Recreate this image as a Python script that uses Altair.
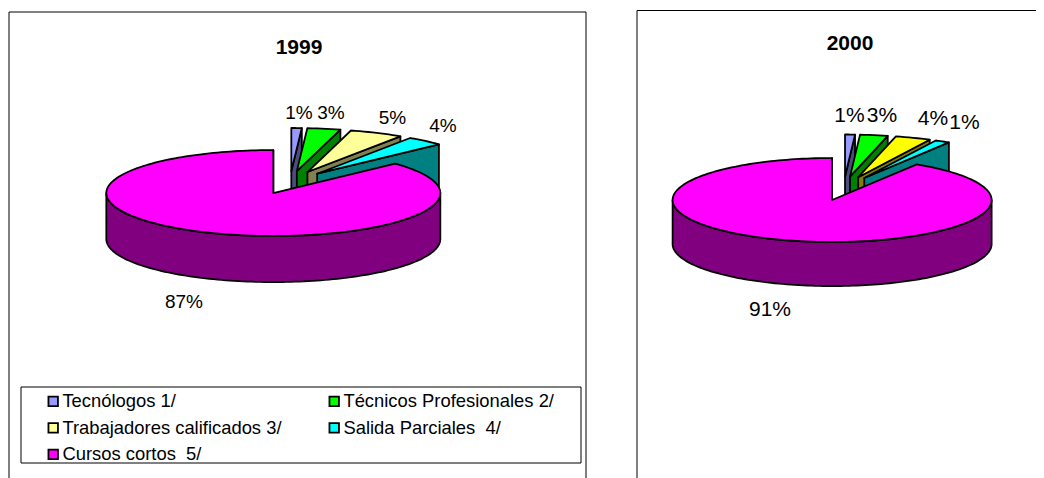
import math
import altair as alt
import pandas as pd

categories = ["Tecnólogos 1/", "Técnicos Profesionales 2/", "Trabajadores calificados 3/", "Salida Parciales\u00a0 4/", "Cursos cortos\u00a0 5/"]
values_1999 = [1.0, 3.2, 5.2, 3.6, 87.0]
values_2000 = [1.0, 2.8, 3.6, 1.5, 91.1]
labels_1999 = ["1%", "3%", "5%", "4%", "87%"]
labels_2000 = ["1%", "3%", "4%", "1%", "91%"]
top_1999 = ["#9999FF", "#00FF00", "#FFFF99", "#00FFFF", "#FF00FF"]
wall_1999 = ["#4C4C80", "#008000", "#808050", "#008080", "#800080"]
top_2000 = ["#9999FF", "#00FF00", "#FFFF00", "#00FFFF", "#FF00FF"]
wall_2000 = ["#4C4C80", "#008000", "#808000", "#008080", "#800080"]
# Vega fills legend columns first; this order reads row by row as in the reference
legend_order = [0, 2, 4, 1, 3]

# pie geometry per panel: centre, radii, depth, explosion offset
pies = {
    "1999": dict(vals=values_1999, top=top_1999, wall=wall_1999, cx=290.0, cy=182.5, a=167.0, b=43.0, d=46.0, ea=42.0, eb=11.5),
    "2000": dict(vals=values_2000, top=top_2000, wall=wall_2000, cx=843.7, cy=188.5, a=159.5, b=42.0, d=44.0, ea=42.0, eb=12.0),
}

rows = []
pid = 0


def add_poly(points, fill):
    global pid
    pid += 1
    for i, (x, y) in enumerate(points):
        rows.append(dict(x=x, y=y, poly=f"{pid:03d}", seq=i, fill=fill))


for name, p in pies.items():
    total = sum(p["vals"])
    acc = 0.0
    for v, ct, cw in zip(p["vals"], p["top"], p["wall"]):
        a0 = acc / total * 2 * math.pi
        acc += v
        a1 = acc / total * 2 * math.pi
        mid = (a0 + a1) / 2
        ox = p["cx"] + p["ea"] * math.sin(mid)
        oy = p["cy"] - p["eb"] * math.cos(mid)

        def pt(t, dz=0.0):
            return (ox + p["a"] * math.sin(t), oy - p["b"] * math.cos(t) + dz)

        n = max(6, int((a1 - a0) / (2 * math.pi) * 240))
        arc = [a0 + (a1 - a0) * i / n for i in range(n + 1)]
        # radial wall on the clockwise edge
        add_poly([(ox, oy), pt(a1), pt(a1, p["d"]), (ox, oy + p["d"])], cw)
        # front rim
        lo, hi = max(a0, math.pi / 2), min(a1, 3 * math.pi / 2)
        if hi > lo:
            m = 120
            front = [lo + (hi - lo) * i / m for i in range(m + 1)]
            add_poly([pt(t) for t in front] + [pt(t, p["d"]) for t in reversed(front)], cw)
        # top face
        add_poly([(ox, oy)] + [pt(t) for t in arc], ct)

polys = pd.DataFrame(rows)

label_x_1999 = [299, 331, 392.5, 443, 184]
label_y_1999 = [113, 113, 118, 126, 302]
label_x_2000 = [849.5, 882, 933, 964.5, 770]
label_y_2000 = [116, 116, 119, 123, 310]
labels = pd.DataFrame(
    [dict(t=t, x=x, y=y, s=19) for t, x, y in zip(labels_1999, label_x_1999, label_y_1999)]
    + [dict(t=t, x=x, y=y, s=21) for t, x, y in zip(labels_2000, label_x_2000, label_y_2000)]
)
titles = pd.DataFrame([dict(t="1999", x=299, y=48), dict(t="2000", x=850, y=44)])
frames = pd.DataFrame([
    dict(f="a", i=0, x=9, y=478), dict(f="a", i=1, x=9, y=12), dict(f="a", i=2, x=586, y=12), dict(f="a", i=3, x=586, y=478),
    dict(f="b", i=0, x=637, y=478), dict(f="b", i=1, x=637, y=10.5), dict(f="b", i=2, x=1044, y=10.5),
])
legend_box = pd.DataFrame([dict(x=21, x2=581, y=387, y2=463)])
legend_df = pd.DataFrame({"cat": categories})

X = alt.X("x:Q", scale=alt.Scale(domain=[8, 1036]), axis=None)
Y = alt.Y("y:Q", scale=alt.Scale(domain=[478, 8]), axis=None)

frame_layer = alt.Chart(frames).mark_line(color="black", strokeWidth=1).encode(x=X, y=Y, detail="f:N", order="i:Q")
box_layer = alt.Chart(legend_box).mark_rect(fill="white", stroke="black", strokeWidth=1).encode(x=X, x2="x2:Q", y=Y, y2="y2:Q")
poly_layer = alt.Chart(polys).mark_line(interpolate="linear-closed", stroke="black", strokeWidth=1.8, strokeJoin="round").encode(
    x=X, y=Y, detail="poly:N", order="seq:Q", fill=alt.Fill("fill:N", scale=None))
text_layer = alt.Chart(labels).mark_text(font="Liberation Sans", baseline="middle", color="black").encode(
    x=X, y=Y, text="t:N", size=alt.Size("s:Q", scale=None))
title_layer = alt.Chart(titles).mark_text(font="Liberation Sans", fontWeight="bold", fontSize=21, baseline="middle", color="black").encode(
    x=X, y=Y, text="t:N")
legend_layer = alt.Chart(legend_df).transform_filter("false").mark_point(filled=True, shape="square", opacity=1).encode(
    x=alt.value(0), y=alt.value(0),
    color=alt.Color("cat:N", scale=alt.Scale(domain=[categories[i] for i in legend_order], range=[top_1999[i] for i in legend_order]), legend=alt.Legend(
        title=None, orient="none", legendX=36, legendY=384, columns=2, symbolType="square", symbolSize=90,
        symbolStrokeColor="black", symbolStrokeWidth=1.8, labelFont="Liberation Sans", labelFontSize=18.4, labelColor="black",
        padding=0, columnPadding=43, rowPadding=7.6, labelLimit=400, symbolOffset=0, labelOffset=0)))

chart = alt.layer(frame_layer, box_layer, poly_layer, text_layer, title_layer, legend_layer).resolve_scale(color="independent").properties(
    width=1028, height=470, padding=0, autosize=alt.AutoSizeParams(type="none")
).configure_view(stroke=None)
chart.save("out.html", embed_options={"renderer": "svg", "actions": False})
